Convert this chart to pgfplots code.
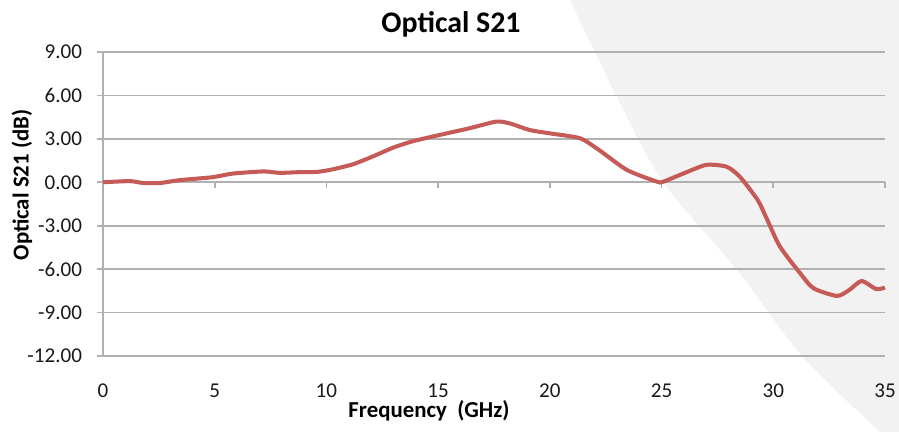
\documentclass[border=0pt]{standalone}
\usepackage{fontspec}
\setmainfont{Carlito}
\usepackage{pgfplots}
\pgfplotsset{compat=1.18}

\definecolor{curve}{HTML}{C55A57}
\definecolor{gridc}{HTML}{B0B0B0}
\definecolor{swoosh}{HTML}{F2F2F2}

\begin{document}
\begin{tikzpicture}
\useasboundingbox (0,0) rectangle (17.98,8.64);
% light grey background swoosh
\fill[swoosh] plot[smooth] coordinates {(11.40,8.64) (12.34,6.70) (13.26,5.00) (14.74,3.24) (16.06,1.50) (17.60,0)}
  -- (17.98,0) -- (17.98,8.64) -- cycle;

\begin{axis}[
  at={(2.06cm,1.52cm)}, anchor=south west,
  scale only axis, width=15.64cm, height=6.08cm,
  xmin=0, xmax=35, ymin=-12, ymax=9,
  xtick={0,5,...,35}, ytick={-12,-9,...,9},
  axis x line=bottom, axis y line=left,
  x axis line style={draw=none},
  y axis line style={gridc, line width=0.9pt, -},
  ymajorgrids, grid style={gridc, line width=0.9pt},
  x tick style={draw=none},
  y tick style={gridc, line width=0.9pt},
  tick align=outside, major tick length=3.4pt,
  yticklabel={\pgfmathprintnumber[fixed, fixed zerofill, precision=2]{\tick}},
  /pgf/number format/assume math mode=true,
  ticklabel style={font=\fontsize{12}{14}\selectfont, text=black!90},
  xticklabel style={yshift=-9pt},
  yticklabel style={xshift=-5pt},
  clip=false,
]
\draw[gridc, line width=0.9pt] (axis cs:0,0) -- (axis cs:35,0);
\pgfplotsinvokeforeach{5,10,15,20,25,30,35}{
  \draw[gridc, line width=0.9pt] (axis cs:#1,0) -- ([yshift=-3.4pt]axis cs:#1,0);
}
\addplot[curve, line width=2.3pt, smooth, tension=0.4] coordinates {
  (0.0,0.0) (1.2,0.08) (1.8,-0.05) (2.55,-0.05) (3.45,0.15) (4.9,0.35)
  (5.8,0.6) (7.2,0.75) (7.9,0.65) (8.8,0.7) (9.6,0.72) (10.3,0.9)
  (11.2,1.25) (12.1,1.8) (13.0,2.4) (13.9,2.85) (15.5,3.42) (16.4,3.73)
  (17.6,4.19) (18.2,4.07) (19.1,3.61) (20.0,3.38) (21.35,3.04) (22.2,2.23)
  (23.45,0.85) (24.8,0.04) (25.07,0.04) (26.0,0.62) (27.0,1.2) (27.9,1.08)
  (28.5,0.39) (29.3,-1.22) (29.7,-2.49) (30.3,-4.45) (31.2,-6.28)
  (31.8,-7.32) (32.85,-7.85) (33.4,-7.44) (33.95,-6.82) (34.6,-7.37) (35.0,-7.28)
};
\end{axis}

\node[font=\bfseries\fontsize{17}{20}\selectfont] at (9.02,8.16) {Optical S21};
\node[font=\bfseries\fontsize{13}{15}\selectfont] at (8.58,0.42) {Frequency\ \ (GHz)};
\node[font=\bfseries\fontsize{13}{15}\selectfont, rotate=90] at (0.44,4.94) {Optical S21 (dB)};
\end{tikzpicture}
\end{document}
